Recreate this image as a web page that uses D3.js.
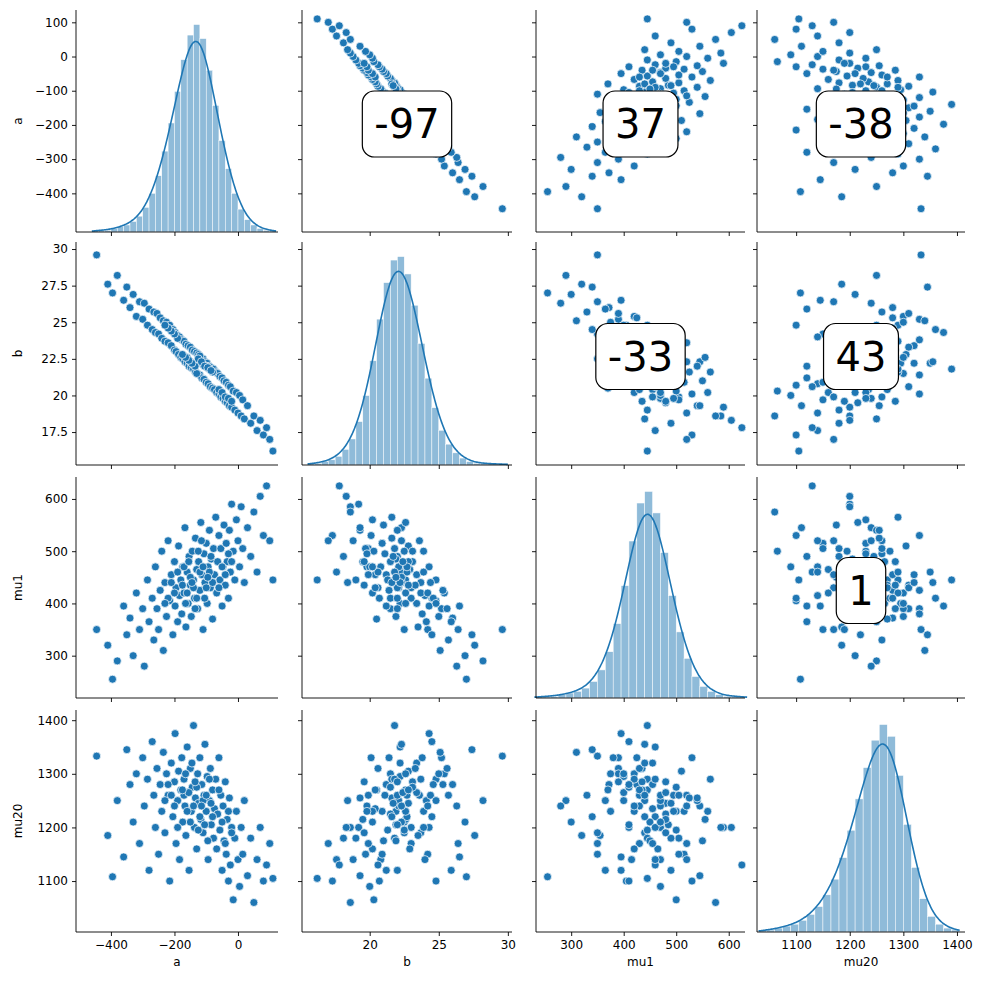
<!DOCTYPE html>
<html><head><meta charset="utf-8">
<script src="https://cdn.jsdelivr.net/npm/d3@7"></script>
<style>
body{margin:0;background:#fff;}
text{font-family:"DejaVu Sans",sans-serif;}
.tick text{font-size:12px;fill:#000;}
.domain,.tick line{stroke:#000;stroke-width:0.9;}
</style></head>
<body><svg id="plot" width="985" height="986"></svg>
<script>
var names = ['a', 'b', 'mu1', 'mu20'];
var corrLabels = [[null, '-97', '37', '-38'], [null, null, '-33', '43'], [null, null, null, '1']];

var a = [-445,-410,-395,-380,-360,-350,-340,-330,-320,-310,-300,-295,-285,-280,-270,-265,-260,-255,-250,-245,
  -240,-235,-230,-225,-220,-215,-210,-205,-200,-198,-195,-190,-187,-184,-180,-177,-174,-170,-167,-164,
  -160,-157,-154,-150,-147,-144,-140,-137,-134,-130,-127,-124,-120,-117,-114,-110,-107,-104,-100,-97,
  -94,-90,-87,-84,-80,-77,-74,-70,-67,-64,-60,-57,-54,-50,-47,-44,-40,-37,-34,-30,
  -27,-24,-20,-15,-10,-5,0,5,10,15,20,30,40,50,60,70,80,90,100,110,
  -140,-120,-130,-110,-150,-100,-160,-90,-170,-80,-125,-135,-115,-145,-105,-155,-95,-165,-85,-175,
  -190,-60,-200,-50,-210,-40,-220,-30,-230,-20];
var b = [29.6,27.6,27.0,28.2,26.5,27.4,26.0,26.9,25.4,26.4,25.2,26.3,24.8,25.9,24.5,25.7,24.3,25.6,24.2,25.3,
  23.9,25.1,23.7,25.0,23.6,24.8,23.4,24.5,23.1,24.3,23.0,24.1,22.8,24.0,22.6,23.8,22.5,23.7,22.3,23.5,
  22.2,23.4,22.0,23.3,21.9,23.1,21.8,23.0,21.6,22.9,21.5,22.8,21.4,22.6,21.2,22.5,21.1,22.3,20.9,22.2,
  20.8,22.0,20.6,21.9,20.5,21.8,20.4,21.6,20.2,21.5,20.1,21.3,19.9,21.2,19.8,21.0,19.6,20.9,19.5,20.7,
  19.3,20.6,19.2,20.3,19.0,20.2,18.8,20.0,18.6,19.7,18.4,19.3,18.1,18.6,17.6,18.3,17.3,17.8,17.0,16.2,
  22.1,22.7,21.5,22.1,22.3,22.0,22.6,21.8,22.7,21.6,22.5,22.0,22.3,22.2,22.0,22.4,21.9,22.6,21.7,22.8,
  23.9,20.4,24.2,20.2,24.4,19.9,24.6,19.8,24.8,19.6];
var mu1 = [350,320,255,290,395,340,372,300,420,350,390,280,445,365,410,330,470,390,350,425,
  500,310,440,375,520,405,455,340,480,395,430,365,510,415,445,380,470,420,545,355,
  460,400,490,435,375,500,445,410,525,465,390,480,425,555,455,350,495,440,515,400,
  470,540,430,485,370,505,455,565,420,480,530,445,505,395,470,550,435,515,480,410,
  540,460,590,500,445,560,520,470,585,505,440,545,490,575,460,605,530,625,520,445,
  430,460,410,470,450,430,420,460,470,440,500,390,520,440,410,480,450,400,490,435,
  460,430,420,470,440,455,410,495,400,480];
var mu20 = [1333,1185,1108,1250,1145,1345,1280,1210,1300,1170,1330,1240,1290,1120,1360,1260,1200,1310,1150,1280,
  1230,1340,1190,1300,1260,1100,1320,1220,1285,1375,1170,1250,1305,1140,1270,1330,1210,1290,1240,1185,
  1350,1265,1120,1310,1230,1275,1390,1200,1255,1160,1300,1245,1330,1215,1280,1190,1260,1355,1230,1295,
  1140,1250,1310,1205,1270,1180,1235,1290,1160,1225,1330,1195,1260,1120,1240,1175,1285,1150,1215,1100,
  1255,1130,1200,1065,1180,1230,1140,1090,1200,1150,1250,1110,1180,1060,1140,1200,1100,1130,1170,1105,
  1240,1220,1275,1250,1210,1260,1230,1290,1260,1220,1195,1285,1240,1320,1205,1265,1175,1300,1245,1270,
  1200,1270,1240,1210,1260,1170,1280,1230,1250,1190];

// histogram bins: start, width, counts
var histA = {start: -460, width: 20, counts: [1,1,1,2,3,4,6,9,14,22,32,46,62,80,98,112,118,110,92,72,52,36,22,13,7,4,2,1,1]};
var histB = {start: 15.5, width: 0.5, counts: [1,1,2,3,5,9,15,25,40,60,84,105,118,120,110,92,70,50,33,20,12,7,4,2,1,1,1,0,1]};
var histMu1 = {start: 230, width: 15, counts: [1,1,1,2,3,4,6,10,17,28,45,68,95,118,125,112,88,62,40,24,13,7,4,2,1,1,1]};
var histMu20 = {start: 1030, width: 15, counts: [1,1,2,3,4,6,9,13,19,27,38,52,68,84,98,106,100,80,55,33,17,8,4,2,1]};

var cols = [a, b, mu1, mu20];
var hists = [histA, histB, histMu1, histMu20];
var xDomains = [[-510, 126], [15.1, 30.3], [233, 631], [1027, 1415]];
var yDomains = [[-513, 136], [15.25, 30.48], [219, 642], [1005, 1419]];
var xTicks = [[-400, -200, 0], [20, 25, 30], [300, 400, 500, 600], [1100, 1200, 1300, 1400]];
var yTicks = [[-400, -300, -200, -100, 0, 100], [17.5, 20, 22.5, 25, 27.5, 30], [300, 400, 500, 600], [1100, 1200, 1300, 1400]];

var colX = [[76, 278], [302, 512], [536, 745], [757, 965]];
var rowY = [[10, 232], [242, 465], [477, 698], [710, 932]];
var blue = '#1f77b4';

var svg = d3.select('#plot');
var xs = xDomains.map((d, i) => d3.scaleLinear().domain(d).range(colX[i]));
var ys = yDomains.map((d, i) => d3.scaleLinear().domain(d).range([rowY[i][1], rowY[i][0]]));
var fmt = d => (Number.isInteger(d) ? String(d) : d.toFixed(1)).replace('-', '\u2212');

for (let r = 0; r < 4; r++) {
  for (let c = 0; c < 4; c++) {
    let g = svg.append('g');
    let x = xs[c], y = ys[r];
    if (r == c) {
      let h = hists[c];
      let hy = d3.scaleLinear().domain([0, d3.max(h.counts) * 1.07]).range([rowY[r][1], rowY[r][0]]);
      g.selectAll('rect').data(h.counts).enter().append('rect')
        .attr('x', (d, i) => x(h.start + i * h.width))
        .attr('width', (d, i) => x(h.start + (i + 1) * h.width) - x(h.start + i * h.width))
        .attr('y', d => hy(d))
        .attr('height', d => hy(0) - hy(d))
        .attr('fill', blue).attr('fill-opacity', 0.5)
        .attr('stroke', '#fff').attr('stroke-width', 0.5);
      // gaussian smoothing of the bins for the kde line
      let bw = h.width * 1.3;
      let lo = h.start, hi = h.start + h.counts.length * h.width;
      let grid = d3.range(lo, hi + 1e-9, (hi - lo) / 200);
      let kde = grid.map(v => [v, d3.sum(h.counts, (cnt, i) => {
        let z = (v - (h.start + (i + 0.5) * h.width)) / bw;
        return cnt * h.width * Math.exp(-0.5 * z * z) / (bw * Math.sqrt(2 * Math.PI));
      })]);
      g.append('path').datum(kde)
        .attr('d', d3.line().x(d => x(d[0])).y(d => hy(d[1])).curve(d3.curveBasis))
        .attr('fill', 'none').attr('stroke', blue).attr('stroke-width', 1.6);
    } else {
      g.selectAll('circle').data(d3.range(a.length)).enter().append('circle')
        .attr('cx', i => x(cols[c][i])).attr('cy', i => y(cols[r][i]))
        .attr('r', 4).attr('fill', blue).attr('stroke', '#fff').attr('stroke-width', 0.7);
      if (c > r) {
        let px = (colX[c][0] + colX[c][1]) / 2, py = (rowY[r][0] + rowY[r][1]) / 2 + 3;
        let t = g.append('text').attr('x', px).attr('y', py).attr('text-anchor', 'middle')
          .attr('dy', '0.36em').style('font-size', '40px').text(corrLabels[r][c]);
        let bb = t.node().getBBox();
        g.insert('rect', 'text').attr('x', bb.x - 12).attr('y', py - 33).attr('width', bb.width + 24)
          .attr('height', 66).attr('rx', 12).attr('fill', '#fff').attr('stroke', '#000').attr('stroke-width', 1.2);
      }
    }
    let ax = g.append('g').attr('transform', 'translate(0,' + rowY[r][1] + ')')
      .call(d3.axisBottom(x).tickValues(xTicks[c]).tickSize(4).tickPadding(4).tickFormat(fmt));
    if (r < 3) ax.selectAll('text').remove();
    let ay = g.append('g').attr('transform', 'translate(' + colX[c][0] + ',0)')
      .call(d3.axisLeft(y).tickValues(yTicks[r]).tickSize(4).tickPadding(4).tickFormat(fmt));
    if (c > 0) ay.selectAll('text').remove();
    ax.select('.domain').attr('d', 'M' + colX[c][0] + ',0H' + colX[c][1]);
    ay.select('.domain').attr('d', 'M0,' + rowY[r][0] + 'V' + rowY[r][1]);
  }
}
names.forEach((n, i) => {
  svg.append('text').attr('x', (colX[i][0] + colX[i][1]) / 2).attr('y', 966)
    .attr('text-anchor', 'middle').style('font-size', '12px').text(n);
  svg.append('text').attr('transform', 'translate(22,' + (rowY[i][0] + rowY[i][1]) / 2 + ') rotate(-90)')
    .attr('text-anchor', 'middle').style('font-size', '12px').text(n);
});
</script></body></html>
